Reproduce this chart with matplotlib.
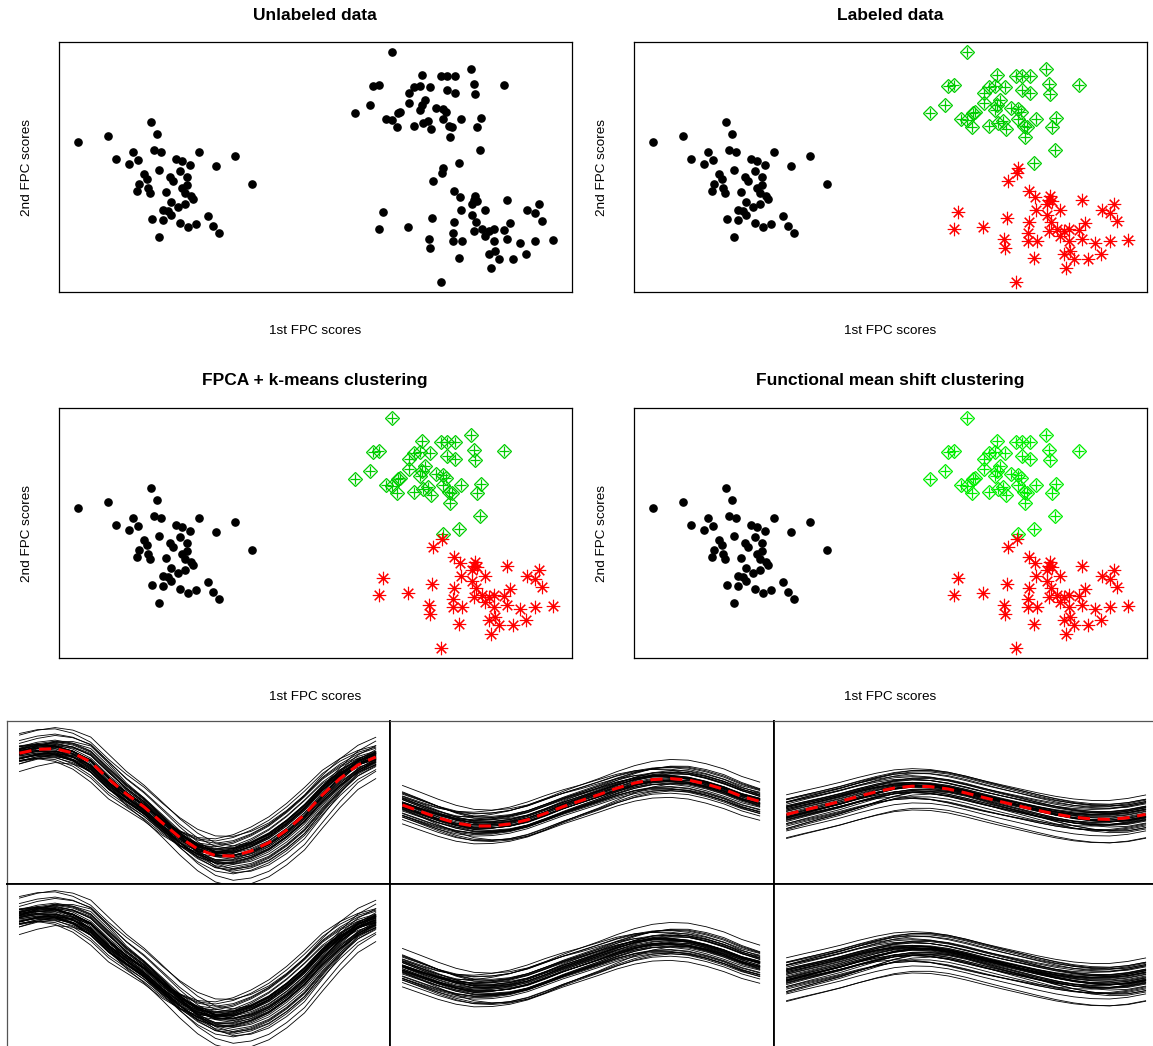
import numpy as np
import matplotlib.pyplot as plt

plt.rcParams['font.family'] = ['Liberation Sans', 'DejaVu Sans']

# 1st / 2nd FPC scores, grouped by true cluster
fpc1_c1 = [-23.7, -20.7, -16.4, -15.8, -18.2, -17.7, -19.9, -18.6, -16.1, -15.4,
           -11.6, -8.0, -6.3, -13.9, -13.3, -12.5, -9.9, -13.5, -15.6, -17.1,
           -16.8, -14.5, -14.2, -12.8, -17.6, -17.8, -16.7, -16.5, -14.9, -13.3,
           -12.8, -13.0, -12.4, -12.2, -14.4, -13.0, -13.7, -15.2, -14.7, -14.4,
           -16.3, -15.2, -13.5, -12.7, -11.9, -10.7, -10.2, -9.6, -15.6]
fpc2_c1 = [2.5, 3.1, 4.5, 3.3, 1.5, 0.7, 0.8, 0.3, 1.7, 1.5,
           1.5, 1.1, -1.7, 0.8, 0.6, 0.2, 0.1, -0.4, -0.3, -0.7,
           -1.2, -1.0, -1.4, -1.0, -1.7, -2.4, -2.1, -2.6, -2.5, -2.1,
           -1.8, -2.6, -2.9, -3.2, -3.5, -3.7, -4.0, -4.3, -4.4, -4.8,
           -5.2, -5.3, -5.6, -6.0, -5.7, -4.9, -5.9, -6.6, -7.0]

fpc1_c2 = [7.7, 15.6, 10.7, 12.6, 13.2, 14.0, 5.8, 6.4, 15.9, 18.9,
           9.9, 10.5, 11.5, 9.4, 13.2, 14.0, 16.0, 11.0, 9.4, 5.5,
           10.7, 10.5, 12.1, 12.8, 13.1, 4.0, 8.5, 8.3, 7.1, 7.7,
           12.8, 14.6, 16.6, 8.2, 9.9, 10.8, 11.3, 11.6, 13.4, 13.7,
           16.2, 13.5, 16.5, 14.4]
fpc2_c2 = [11.5, 9.8, 9.2, 9.1, 9.1, 9.1, 8.1, 8.2, 8.3, 8.2,
           8.0, 8.1, 8.0, 7.4, 7.7, 7.4, 7.3, 6.7, 6.4, 6.2,
           6.2, 5.7, 5.9, 5.8, 5.5, 5.4, 5.5, 5.4, 4.8, 4.7,
           4.8, 4.8, 4.9, 4.0, 4.1, 4.4, 4.6, 3.8, 4.1, 4.0,
           4.0, 3.0, 1.7, 0.4]

fpc1_c3 = [12.8, 12.7, 11.8, 13.9, 14.5, 16.0, 15.9, 16.2, 15.7, 19.2,
           17.0, 14.6, 21.2, 22.4, 22.0, 22.7, 6.8, 6.4, 9.3, 11.7,
           13.9, 15.7, 16.1, 19.5, 15.9, 16.7, 17.4, 17.9, 18.9, 13.8,
           17.0, 11.4, 11.5, 13.8, 14.7, 17.9, 19.2, 20.5, 22.0, 23.8,
           17.4, 18.0, 18.4, 19.8, 21.1, 14.4, 17.6, 12.6]
fpc2_c3 = [-0.1, -0.6, -1.4, -2.4, -3.0, -2.9, -3.3, -3.4, -3.7, -3.3,
           -4.3, -4.3, -4.3, -3.7, -4.6, -5.4, -4.5, -6.2, -6.0, -5.1,
           -5.5, -4.8, -5.5, -5.6, -6.4, -6.2, -6.4, -6.2, -6.3, -6.6,
           -6.9, -7.2, -8.1, -7.4, -7.4, -7.4, -7.2, -7.6, -7.4, -7.3,
           -8.7, -8.4, -9.2, -9.2, -8.7, -9.1, -10.1, -11.5]

# both clustering methods put the first curve of cluster 3 into cluster 2
moved_c3 = [0]

# cluster mean curves read at 21 equally spaced time points
t_grid = np.linspace(0, 1, 21)
mean_c1 = [2.49, 2.68, 2.72, 2.50, 2.05, 1.20, 0.45, -0.20, -0.98, -1.72, -2.30,
           -2.63, -2.65, -2.40, -1.98, -1.35, -0.58, 0.40, 1.23, 1.90, 2.30]
mean_c2 = [-0.10, -0.42, -0.74, -1.00, -1.15, -1.15, -1.05, -0.84, -0.52, -0.18, 0.12,
           0.42, 0.74, 1.00, 1.17, 1.22, 1.15, 0.95, 0.68, 0.33, 0.08]
mean_c3 = [-0.57, -0.35, -0.14, 0.08, 0.33, 0.56, 0.75, 0.84, 0.82, 0.70, 0.50,
           0.27, 0.05, -0.16, -0.37, -0.56, -0.71, -0.80, -0.82, -0.74, -0.57]

GREEN = '#00CD00'
GREEN_MS = '#00EE00'
RED = '#FF0000'

W, H = 1153, 1046
fig = plt.figure(figsize=(W / 100, H / 100), dpi=100)


def px_axes(x0, y0, x1, y1):
    return fig.add_axes([x0 / W, 1 - y1 / H, (x1 - x0) / W, (y1 - y0) / H])


def draw_dots(ax, x, y):
    ax.plot(x, y, 'o', color='black', ms=5.2, ls='none')


def draw_diamonds(ax, x, y, col):
    ax.plot(x, y, 'D', mfc='none', mec=col, ms=7.0, mew=0.9, ls='none')
    ax.plot(x, y, '+', color=col, ms=7.8, mew=0.9, ls='none')


def draw_stars(ax, x, y, col):
    ax.plot(x, y, marker=(8, 2, 0), color=col, mec=col, ms=9.6, mew=0.8, ls='none')


def scatter_panel(x0, y0, title, mode, green=GREEN):
    ax = px_axes(x0, y0, x0 + 513, y0 + 250)
    ax.set_xlim(-25.6, 25.7)
    ax.set_ylim(-12.5, 12.5)
    ax.set_xticks([])
    ax.set_yticks([])
    for s in ax.spines.values():
        s.set_linewidth(0.9)
    c3_keep_x = [v for i, v in enumerate(fpc1_c3) if i not in moved_c3]
    c3_keep_y = [v for i, v in enumerate(fpc2_c3) if i not in moved_c3]
    c3_move_x = [fpc1_c3[i] for i in moved_c3]
    c3_move_y = [fpc2_c3[i] for i in moved_c3]
    if mode == 'none':
        draw_dots(ax, fpc1_c1 + fpc1_c2 + fpc1_c3, fpc2_c1 + fpc2_c2 + fpc2_c3)
    elif mode == 'true':
        draw_dots(ax, fpc1_c1, fpc2_c1)
        draw_diamonds(ax, fpc1_c2, fpc2_c2, green)
        draw_stars(ax, fpc1_c3, fpc2_c3, RED)
    else:
        draw_dots(ax, fpc1_c1, fpc2_c1)
        draw_diamonds(ax, fpc1_c2 + c3_move_x, fpc2_c2 + c3_move_y, green)
        draw_stars(ax, c3_keep_x, c3_keep_y, RED)
    fig.text((x0 + 256) / W, 1 - (y0 - 27) / H, title, ha='center', va='center',
             fontsize=12.5, fontweight='bold')
    fig.text((x0 + 256) / W, 1 - (y0 + 289) / H, '1st FPC scores', ha='center',
             va='center', fontsize=9.7)
    fig.text((x0 - 32) / W, 1 - (y0 + 125) / H, '2nd FPC scores', ha='center',
             va='center', fontsize=9.7, rotation=90)


scatter_panel(59, 42, 'Unlabeled data', 'none')
scatter_panel(634, 42, 'Labeled data', 'true')
scatter_panel(59, 408, 'FPCA + k-means clustering', 'cluster')
scatter_panel(634, 408, 'Functional mean shift clustering', 'cluster', GREEN_MS)

# functional data by cluster: top row with cluster mean, bottom row curves only
clusters = [(fpc1_c1, fpc2_c1, mean_c1), (fpc1_c2, fpc2_c2, mean_c2),
            (fpc1_c3, fpc2_c3, mean_c3)]
cols = [(7, 390), (390, 774), (774, 1160)]
rows = [(721, 884), (884, 1047)]
kv, ka, kp = 0.12, 0.03, 0.008

for r, (y0, y1) in enumerate(rows):
    for c, (x0, x1) in enumerate(cols):
        ax = px_axes(x0, y0, x1, y1)
        ax.set_xlim(-0.035, 1.04)
        ax.set_ylim(-4.05, 4.1)
        ax.set_xticks([])
        ax.set_yticks([])
        for s in ax.spines.values():
            s.set_linewidth(1.3)
            s.set_color('black')
        if r == 0:
            ax.spines['top'].set_linewidth(0.9)
            ax.spines['top'].set_color('#555555')
        if c == 0:
            ax.spines['left'].set_linewidth(0.9)
            ax.spines['left'].set_color('#555555')
        s1, s2, m = clusters[c]
        s1 = np.array(s1)
        s2 = np.array(s2)
        m = np.array(m)
        dm = np.gradient(m, t_grid)
        d1 = s1 - s1.mean()
        d2 = s2 - s2.mean()
        for a, b in zip(d1, d2):
            ax.plot(t_grid, m * (1 + ka * b) + kv * a - kp * b * dm,
                    color='black', lw=0.6)
        if r == 0:
            ax.plot(t_grid, m, color=RED, lw=2.2, dashes=(4, 2.5))

fig.savefig('out.png', dpi=100)
